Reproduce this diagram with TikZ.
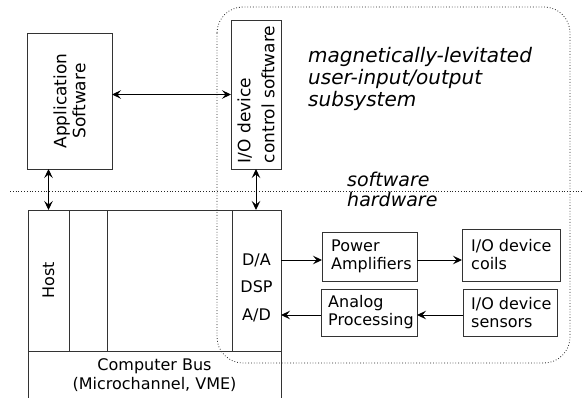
\documentclass[tikz,border=0pt]{standalone}
\usepackage{fontspec}
\setmainfont{DejaVu Sans}
\usetikzlibrary{arrows.meta,calc}
\begin{document}
\begin{tikzpicture}[x=1pt,y=-1pt,
  >={Stealth[length=9pt,width=8.5pt,inset=3.5pt]},
  box/.style={draw=black!80, line width=0.8pt, inner sep=0pt, outer sep=0pt},
  lbl/.style={font=\fontsize{16}{18}\selectfont, inner sep=0pt, align=left},
  big/.style={font=\fontsize{20}{22}\selectfont\itshape, inner sep=0pt, align=left},
  conn/.style={line width=1pt, ->},
  biconn/.style={line width=1pt, <->},
  dotline/.style={line width=0.8pt, black!85, dash pattern=on 0.8pt off 2pt}
]
\useasboundingbox (0,0) rectangle (583,398);
% dotted regions
\draw[dotline, rounded corners=26pt] (217,7) rectangle (570,363);
\draw[dotline] (10,191) -- (583,191);
% software boxes
\node[box, minimum width=85pt, minimum height=136pt] (app) at (69.5,101) {};
\node[lbl, rotate=90, align=center, font=\fontsize{17}{19}\selectfont] (applbl) at (app.center) {Application\\Software};
\node[box, fill=white, minimum width=50pt, minimum height=149pt] (ioc) at (256,94.5) {};
\node[lbl, rotate=90, font=\fontsize{17}{24}\selectfont] (ioclbl) at (ioc.center) {I/O device\\control software};
% hardware block
\node[box, minimum width=41pt, minimum height=141pt] (host) at (48.5,280.5) {};
\node[box, minimum width=38pt, minimum height=141pt] (col2) at (88,280.5) {};
\node[box, minimum width=125pt, minimum height=141pt] (col3) at (169.5,280.5) {};
\node[box, minimum width=49pt, minimum height=141pt] (dsp) at (256.5,280.5) {};
\node[lbl, rotate=90] (hostlbl) at (host.center) {Host};
\node[lbl] (da) at (256.5,260) {D/A};
\node[lbl] (dsplbl) at (256.5,287) {DSP};
\node[lbl] (ad) at (256.5,315) {A/D};
\draw[draw=black!80, line width=0.8pt] (host.south west) -- (28,398);
\draw[draw=black!80, line width=0.8pt] (dsp.south east) -- (281,398);
\node[lbl, align=center, font=\fontsize{16}{19}\selectfont] (bus) at (154.5,375) {Computer Bus\\(Microchannel, VME)};
% analog boxes
\node[box, minimum width=95pt, minimum height=49pt] (pa) at (369.5,256.5) {};
\node[lbl, anchor=west] (palbl) at ($(pa.west)+(9,0)$) {Power\\Amplifiers};
\node[box, minimum width=98pt, minimum height=52pt] (coils) at (511,255) {};
\node[lbl, anchor=west] (coilslbl) at ($(coils.west)+(9,0)$) {I/O device\\coils};
\node[box, minimum width=96pt, minimum height=47pt] (ap) at (369,312.5) {};
\node[lbl, anchor=west] (aplbl) at ($(ap.west)+(7,0)$) {Analog\\Processing};
\node[box, minimum width=94pt, minimum height=47pt] (sens) at (510,312.5) {};
\node[lbl, anchor=west] (senslbl) at ($(sens.west)+(8,0)$) {I/O device\\sensors};
% italic texts
\node[big, anchor=west] (title) at (308,79) {magnetically-levitated\\user-input/output\\subsystem};
\node[big, anchor=west, font=\fontsize{19}{21}\selectfont\itshape] (sw) at (347,179) {software};
\node[big, anchor=west, font=\fontsize{19}{21}\selectfont\itshape] (hw) at (347,199) {hardware};
% connectors
\draw[biconn] (ioc.west -| app.east) -- (ioc.west);
\draw[biconn] (host.north |- app.south) -- (host.north);
\draw[biconn] (ioc.south) -- (ioc.south |- dsp.north);
\draw[conn] (da -| dsp.east) -- (da -| pa.west);
\draw[conn] (da -| pa.east) -- (da -| coils.west);
\draw[conn] (ad -| sens.west) -- (ad -| ap.east);
\draw[conn] (ad -| ap.west) -- (ad -| dsp.east);
\end{tikzpicture}
\end{document}
